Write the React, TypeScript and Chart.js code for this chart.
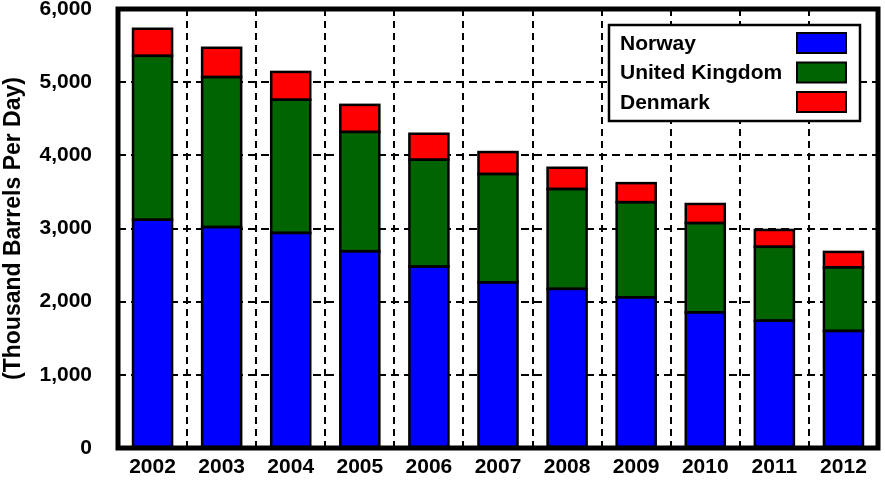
import React, { useEffect, useRef } from "react";
import { Chart, registerables } from "chart.js";

Chart.register(...registerables);

const years = ["2002", "2003", "2004", "2005", "2006", "2007", "2008", "2009", "2010", "2011", "2012"];
const norway = [3120, 3020, 2940, 2690, 2480, 2265, 2175, 2060, 1855, 1740, 1600];
const unitedKingdom = [2240, 2050, 1820, 1630, 1460, 1480, 1365, 1300, 1220, 1010, 870];
const denmark = [370, 400, 380, 370, 355, 300, 290, 260, 260, 230, 210];
const seriesNames = ["Norway", "United Kingdom", "Denmark"];
const seriesColors = ["#0000ff", "#006400", "#ff0000"];
const yTicks = [0, 1000, 2000, 3000, 4000, 5000, 6000];
const yTitle = "(Thousand Barrels Per Day)";

const FONT = "'Liberation Sans', Arial, sans-serif";

const framePlugin = {
  id: "frame",
  afterDatasetsDraw(chart: any) {
    const { ctx, chartArea } = chart;
    ctx.save();
    ctx.strokeStyle = "#000";
    ctx.lineWidth = 2.5;
    chart.data.datasets.forEach((_: any, di: number) => {
      const meta = chart.getDatasetMeta(di);
      meta.data.forEach((bar: any) => {
        const { x, y, base, width } = bar.getProps(["x", "y", "base", "width"], true);
        const top = Math.min(y, base);
        const h = Math.abs(base - y);
        ctx.strokeRect(x - width / 2, top, width, h);
      });
    });
    ctx.lineWidth = 5;
    ctx.strokeRect(chartArea.left, chartArea.top, chartArea.right - chartArea.left, chartArea.bottom - chartArea.top);
    ctx.restore();
  },
  afterDraw(chart: any) {
    const { ctx, chartArea } = chart;
    const right = chartArea.right - 18;
    const left = right - 251;
    const top = chartArea.top + 16;
    const rowH = 29.5;
    const height = 96;
    ctx.save();
    ctx.fillStyle = "#fff";
    ctx.fillRect(left, top, right - left, height);
    ctx.strokeStyle = "#000";
    ctx.lineWidth = 2.5;
    ctx.strokeRect(left, top, right - left, height);
    ctx.font = "bold 21px " + FONT;
    ctx.textBaseline = "middle";
    ctx.textAlign = "left";
    chart.data.datasets.forEach((ds: any, i: number) => {
      const cy = top + 18 + i * rowH;
      ctx.fillStyle = "#000";
      ctx.fillText(ds.label, left + 11, cy + 1);
      ctx.fillStyle = ds.backgroundColor;
      ctx.fillRect(right - 63, cy - 10, 49, 20);
      ctx.lineWidth = 2;
      ctx.strokeRect(right - 63, cy - 10, 49, 20);
    });
    ctx.restore();
  },
};

export default function App() {
  const ref = useRef<HTMLCanvasElement>(null);
  useEffect(() => {
    document.body.style.margin = "0";
    const data = [norway, unitedKingdom, denmark];
    const chart = new Chart(ref.current as HTMLCanvasElement, {
      type: "bar",
      data: {
        labels: years,
        datasets: data.map((d, i) => ({
          label: seriesNames[i],
          data: d,
          backgroundColor: seriesColors[i],
          borderWidth: 0,
          barPercentage: 0.565,
          categoryPercentage: 1,
        })),
      },
      options: {
        responsive: false,
        animation: false,
        layout: { padding: { top: 9, right: 7, left: 0, bottom: 0 } },
        plugins: { legend: { display: false }, tooltip: { enabled: false } },
        scales: {
          x: {
            stacked: true,
            grid: {
              offset: true,
              color: "#000",
              lineWidth: 2,
              drawTicks: false,
            },
            border: { display: false, dash: [7, 5] },
            ticks: {
              color: "#000",
              font: { family: FONT, size: 21, weight: "bold" },
              padding: 7,
              maxRotation: 0,
            },
            afterFit(scale: any) {
              scale.height = 36;
              scale.paddingLeft = 0;
              scale.paddingRight = 0;
            },
          },
          y: {
            stacked: true,
            min: 0,
            max: 6000,
            afterBuildTicks(scale: any) {
              scale.ticks = yTicks.map((v) => ({ value: v }));
            },
            grid: {
              color: "#000",
              lineWidth: 2,
              drawTicks: false,
            },
            border: { display: false, dash: [8, 5] },
            ticks: {
              color: "#000",
              font: { family: FONT, size: 21, weight: "bold" },
              padding: 26,
              callback: (v: any) => Number(v).toLocaleString("en-US"),
            },
            title: {
              display: true,
              text: yTitle,
              color: "#000",
              font: { family: FONT, size: 23, weight: "bold" },
              padding: { top: 0, bottom: 0 },
            },
            afterFit(scale: any) {
              scale.width = 118;
              scale.paddingTop = 0;
              scale.paddingBottom = 0;
            },
          },
        },
      } as any,
      plugins: [framePlugin],
    });
    return () => chart.destroy();
  }, []);
  return (
    <div style={{ width: 885, height: 484 }}>
      <canvas ref={ref} width={885} height={484} />
    </div>
  );
}
